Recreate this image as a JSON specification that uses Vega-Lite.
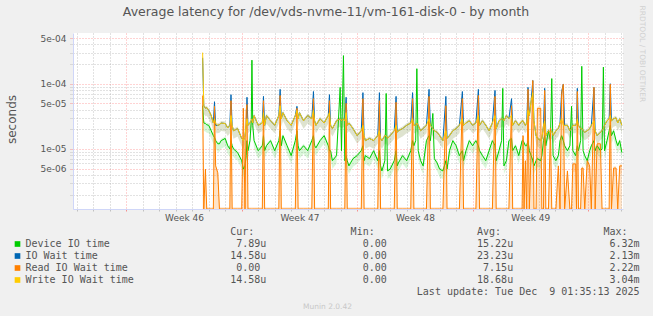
{
  "$schema": "https://vega.github.io/schema/vega-lite/v6.json",
  "width": 550,
  "height": 176,
  "autosize": {"type": "none"},
  "padding": {"left": 73, "top": 33, "right": 30, "bottom": 107},
  "background": "#f0f0f0",
  "config": {"view": {"fill": "#ffffff", "stroke": null}, "font": "DejaVu Sans"},
  "title": {"text": "Average latency for /dev/vds-nvme-11/vm-161-disk-0 - by month", "anchor": "middle", "frame": "group", "dx": -22, "dy": 27, "offset": 14, "font": "DejaVu Sans", "fontSize": 12.5, "fontWeight": "normal", "color": "#555555"},
  "data": {"values": [
    {"day":4.63,"dev":4.6e-5,"io":2.5e-4,"rd":6.6e-5,"wr":3.0e-4},
    {"day":4.70,"dev":2.5e-5,"io":4.6e-5,"rd":0,"wr":4.6e-5},
    {"day":4.80,"dev":2.45e-5,"io":4.2e-5,"rd":4.9e-6,"wr":4.2e-5},
    {"day":4.88,"dev":2.35e-5,"io":4.3e-5,"rd":0,"wr":4.3e-5},
    {"day":5.0,"dev":2.3e-5,"io":3.9e-5,"rd":0,"wr":3.9e-5},
    {"day":5.15,"dev":1.9e-5,"io":3.25e-5,"rd":0,"wr":3.25e-5},
    {"day":5.28,"dev":1.6e-5,"io":2.5e-5,"rd":0,"wr":2.5e-5},
    {"day":5.35,"dev":1.5e-5,"io":5.3e-5,"rd":4.5e-5,"wr":2.9e-5},
    {"day":5.42,"dev":1.34e-5,"io":2.3e-5,"rd":5.5e-6,"wr":2.45e-5},
    {"day":5.55,"dev":1.2e-5,"io":2.3e-5,"rd":4.3e-6,"wr":2.3e-5},
    {"day":5.65,"dev":1.2e-5,"io":2.35e-5,"rd":0,"wr":2.35e-5},
    {"day":5.75,"dev":1.34e-5,"io":2.5e-5,"rd":0,"wr":2.5e-5},
    {"day":6.0,"dev":1.45e-5,"io":2.45e-5,"rd":0,"wr":2.45e-5},
    {"day":6.15,"dev":1.12e-5,"io":2.1e-5,"rd":0,"wr":2.1e-5},
    {"day":6.28,"dev":1.0e-5,"io":2.3e-5,"rd":0,"wr":2.3e-5},
    {"day":6.35,"dev":1.34e-5,"io":6.8e-5,"rd":5.5e-5,"wr":3.25e-5},
    {"day":6.42,"dev":1.12e-5,"io":2.3e-5,"rd":0,"wr":2.3e-5},
    {"day":6.5,"dev":1.0e-5,"io":1.9e-5,"rd":0,"wr":1.9e-5},
    {"day":6.75,"dev":8.8e-6,"io":2.05e-5,"rd":0,"wr":2.05e-5},
    {"day":7.0,"dev":6.6e-6,"io":1.45e-5,"rd":0,"wr":1.45e-5},
    {"day":7.1,"dev":4.9e-6,"io":1.34e-5,"rd":4.2e-5,"wr":1.34e-5},
    {"day":7.2,"dev":5.5e-6,"io":1.6e-5,"rd":0,"wr":1.6e-5},
    {"day":7.27,"dev":7.9e-6,"io":2.3e-5,"rd":3.9e-5,"wr":2.3e-5},
    {"day":7.32,"dev":1.34e-5,"io":6.2e-5,"rd":4.8e-5,"wr":2.9e-5},
    {"day":7.38,"dev":9.4e-6,"io":2.3e-5,"rd":0,"wr":2.3e-5},
    {"day":7.5,"dev":1.34e-5,"io":2.5e-5,"rd":0,"wr":2.5e-5},
    {"day":7.58,"dev":2.7e-5,"io":2.7e-5,"rd":0,"wr":2.7e-5},
    {"day":7.62,"dev":2.3e-4,"io":2.9e-5,"rd":0,"wr":2.9e-5},
    {"day":7.67,"dev":2.3e-5,"io":2.5e-5,"rd":0,"wr":2.5e-5},
    {"day":7.75,"dev":1.34e-5,"io":3.25e-5,"rd":0,"wr":3.25e-5},
    {"day":8.0,"dev":9.4e-6,"io":2.3e-5,"rd":0,"wr":2.3e-5},
    {"day":8.25,"dev":1.12e-5,"io":2.5e-5,"rd":0,"wr":2.5e-5},
    {"day":8.32,"dev":1.6e-5,"io":6.4e-5,"rd":5.5e-5,"wr":3.6e-5},
    {"day":8.39,"dev":9.4e-6,"io":2.3e-5,"rd":0,"wr":2.3e-5},
    {"day":8.5,"dev":1.12e-5,"io":3.25e-5,"rd":0,"wr":3.25e-5},
    {"day":8.75,"dev":1.34e-5,"io":2.7e-5,"rd":0,"wr":2.7e-5},
    {"day":9.0,"dev":9.4e-6,"io":2.3e-5,"rd":0,"wr":2.3e-5},
    {"day":9.25,"dev":1.34e-5,"io":3.25e-5,"rd":0,"wr":3.25e-5},
    {"day":9.33,"dev":1.9e-5,"io":8.2e-5,"rd":6.6e-5,"wr":4.6e-5},
    {"day":9.4,"dev":1.12e-5,"io":2.9e-5,"rd":0,"wr":2.9e-5},
    {"day":9.5,"dev":1.6e-5,"io":3.6e-5,"rd":0,"wr":3.6e-5},
    {"day":9.75,"dev":1.12e-5,"io":2.7e-5,"rd":0,"wr":2.7e-5},
    {"day":10.0,"dev":7.9e-6,"io":2.3e-5,"rd":0,"wr":2.3e-5},
    {"day":10.25,"dev":1.34e-5,"io":3.25e-5,"rd":0,"wr":3.25e-5},
    {"day":10.35,"dev":1.9e-5,"io":4.5e-5,"rd":4.2e-5,"wr":3.9e-5},
    {"day":10.42,"dev":1.12e-5,"io":2.9e-5,"rd":0,"wr":2.9e-5},
    {"day":10.5,"dev":9.4e-6,"io":3.6e-5,"rd":0,"wr":3.6e-5},
    {"day":10.75,"dev":1.12e-5,"io":2.7e-5,"rd":0,"wr":2.7e-5},
    {"day":11.0,"dev":9.4e-6,"io":3.25e-5,"rd":0,"wr":3.25e-5},
    {"day":11.25,"dev":1.34e-5,"io":2.9e-5,"rd":0,"wr":2.9e-5},
    {"day":11.35,"dev":1.6e-5,"io":7.6e-5,"rd":5.9e-5,"wr":3.9e-5},
    {"day":11.42,"dev":1.12e-5,"io":2.7e-5,"rd":0,"wr":2.7e-5},
    {"day":11.5,"dev":1.04e-5,"io":2.3e-5,"rd":0,"wr":2.3e-5},
    {"day":11.75,"dev":1.34e-5,"io":2.9e-5,"rd":0,"wr":2.9e-5},
    {"day":12.0,"dev":1.6e-5,"io":2.5e-5,"rd":0,"wr":2.5e-5},
    {"day":12.25,"dev":1.12e-5,"io":3.25e-5,"rd":0,"wr":3.25e-5},
    {"day":12.32,"dev":9.4e-6,"io":6.8e-5,"rd":5.5e-5,"wr":3.6e-5},
    {"day":12.39,"dev":9.4e-6,"io":2.3e-5,"rd":0,"wr":2.3e-5},
    {"day":12.5,"dev":6.6e-6,"io":2.05e-5,"rd":0,"wr":2.05e-5},
    {"day":12.75,"dev":7.9e-6,"io":2.7e-5,"rd":0,"wr":2.7e-5},
    {"day":12.97,"dev":8.8e-5,"io":2.9e-5,"rd":0,"wr":2.9e-5},
    {"day":13.05,"dev":9.4e-6,"io":2.7e-5,"rd":0,"wr":2.7e-5},
    {"day":13.17,"dev":2.7e-4,"io":2.9e-5,"rd":0,"wr":2.9e-5},
    {"day":13.25,"dev":6.6e-6,"io":2.7e-5,"rd":0,"wr":2.7e-5},
    {"day":13.33,"dev":7.9e-6,"io":6.2e-5,"rd":5.0e-5,"wr":3.6e-5},
    {"day":13.4,"dev":6.6e-6,"io":2.3e-5,"rd":0,"wr":2.3e-5},
    {"day":13.5,"dev":5.5e-6,"io":2.5e-5,"rd":0,"wr":2.5e-5},
    {"day":13.75,"dev":7.1e-6,"io":2.05e-5,"rd":0,"wr":2.05e-5},
    {"day":14.0,"dev":7.9e-6,"io":1.6e-5,"rd":0,"wr":1.6e-5},
    {"day":14.25,"dev":9.4e-6,"io":1.9e-5,"rd":0,"wr":1.9e-5},
    {"day":14.35,"dev":1.12e-5,"io":7.3e-5,"rd":5.9e-5,"wr":2.3e-5},
    {"day":14.42,"dev":6.6e-6,"io":1.6e-5,"rd":0,"wr":1.6e-5},
    {"day":14.5,"dev":7.9e-6,"io":1.34e-5,"rd":0,"wr":1.34e-5},
    {"day":14.75,"dev":7.1e-6,"io":1.45e-5,"rd":0,"wr":1.45e-5},
    {"day":15.0,"dev":9.4e-6,"io":1.34e-5,"rd":0,"wr":1.34e-5},
    {"day":15.25,"dev":6.6e-6,"io":1.6e-5,"rd":0,"wr":1.6e-5},
    {"day":15.35,"dev":9.4e-6,"io":7.3e-5,"rd":5.5e-5,"wr":1.9e-5},
    {"day":15.42,"dev":5.5e-6,"io":1.45e-5,"rd":0,"wr":1.45e-5},
    {"day":15.5,"dev":4.6e-6,"io":1.34e-5,"rd":0,"wr":1.34e-5},
    {"day":15.68,"dev":6.6e-6,"io":1.6e-5,"rd":0,"wr":1.6e-5},
    {"day":15.76,"dev":7.1e-5,"io":1.6e-5,"rd":0,"wr":1.6e-5},
    {"day":15.84,"dev":4.6e-6,"io":1.45e-5,"rd":0,"wr":1.45e-5},
    {"day":16.0,"dev":4.9e-6,"io":1.6e-5,"rd":0,"wr":1.6e-5},
    {"day":16.25,"dev":6.6e-6,"io":1.9e-5,"rd":0,"wr":1.9e-5},
    {"day":16.36,"dev":9.4e-6,"io":6.4e-5,"rd":5.2e-5,"wr":2.3e-5},
    {"day":16.43,"dev":5.5e-6,"io":1.8e-5,"rd":0,"wr":1.8e-5},
    {"day":16.5,"dev":6.1e-6,"io":1.9e-5,"rd":0,"wr":1.9e-5},
    {"day":16.75,"dev":7.9e-6,"io":2.05e-5,"rd":0,"wr":2.05e-5},
    {"day":17.0,"dev":6.6e-6,"io":2.3e-5,"rd":0,"wr":2.3e-5},
    {"day":17.25,"dev":9.4e-6,"io":2.5e-5,"rd":0,"wr":2.5e-5},
    {"day":17.36,"dev":1.34e-5,"io":7.3e-5,"rd":5.9e-5,"wr":2.9e-5},
    {"day":17.44,"dev":1.12e-5,"io":2.3e-5,"rd":0,"wr":2.3e-5},
    {"day":17.55,"dev":1.34e-5,"io":2.3e-5,"rd":0,"wr":2.3e-5},
    {"day":17.62,"dev":1.7e-4,"io":2.5e-5,"rd":0,"wr":2.5e-5},
    {"day":17.7,"dev":9.4e-6,"io":2.3e-5,"rd":0,"wr":2.3e-5},
    {"day":17.85,"dev":6.6e-6,"io":1.9e-5,"rd":0,"wr":1.9e-5},
    {"day":18.0,"dev":5.5e-6,"io":2.05e-5,"rd":0,"wr":2.05e-5},
    {"day":18.2,"dev":1.34e-5,"io":2.3e-5,"rd":0,"wr":2.3e-5},
    {"day":18.36,"dev":1.6e-5,"io":8.2e-5,"rd":6.4e-5,"wr":2.9e-5},
    {"day":18.44,"dev":1.34e-5,"io":2.3e-5,"rd":0,"wr":2.3e-5},
    {"day":18.59,"dev":3.5e-5,"io":2.05e-5,"rd":0,"wr":2.05e-5},
    {"day":18.68,"dev":7.1e-6,"io":1.9e-5,"rd":0,"wr":1.9e-5},
    {"day":18.85,"dev":6.1e-6,"io":1.8e-5,"rd":0,"wr":1.8e-5},
    {"day":19.0,"dev":4.9e-6,"io":1.6e-5,"rd":0,"wr":1.6e-5},
    {"day":19.2,"dev":4.6e-6,"io":1.34e-5,"rd":0,"wr":1.34e-5},
    {"day":19.38,"dev":6.6e-6,"io":6.4e-5,"rd":4.6e-5,"wr":1.9e-5},
    {"day":19.45,"dev":4.9e-6,"io":1.45e-5,"rd":0,"wr":1.45e-5},
    {"day":19.6,"dev":9.4e-6,"io":1.6e-5,"rd":0,"wr":1.6e-5},
    {"day":19.8,"dev":1.34e-5,"io":1.9e-5,"rd":0,"wr":1.9e-5},
    {"day":20.0,"dev":1.12e-5,"io":2.05e-5,"rd":0,"wr":2.05e-5},
    {"day":20.2,"dev":7.9e-6,"io":2.3e-5,"rd":0,"wr":2.3e-5},
    {"day":20.38,"dev":9.4e-6,"io":7.6e-5,"rd":5.9e-5,"wr":2.9e-5},
    {"day":20.45,"dev":6.6e-6,"io":2.3e-5,"rd":0,"wr":2.3e-5},
    {"day":20.6,"dev":9.4e-6,"io":2.5e-5,"rd":0,"wr":2.5e-5},
    {"day":20.8,"dev":1.34e-5,"io":2.7e-5,"rd":0,"wr":2.7e-5},
    {"day":21.0,"dev":1.12e-5,"io":2.3e-5,"rd":0,"wr":2.3e-5},
    {"day":21.2,"dev":1.34e-5,"io":2.5e-5,"rd":0,"wr":2.5e-5},
    {"day":21.35,"dev":1.12e-5,"io":8.2e-5,"rd":6.6e-5,"wr":3.25e-5},
    {"day":21.42,"dev":9.4e-6,"io":2.3e-5,"rd":0,"wr":2.3e-5},
    {"day":21.6,"dev":7.9e-6,"io":2.7e-5,"rd":0,"wr":2.7e-5},
    {"day":21.8,"dev":6.6e-6,"io":2.3e-5,"rd":0,"wr":2.3e-5},
    {"day":22.0,"dev":9.4e-6,"io":1.9e-5,"rd":0,"wr":1.9e-5},
    {"day":22.2,"dev":1.34e-5,"io":2.5e-5,"rd":0,"wr":2.5e-5},
    {"day":22.36,"dev":1.12e-5,"io":7.9e-5,"rd":6.4e-5,"wr":3.25e-5},
    {"day":22.43,"dev":6.6e-6,"io":2.05e-5,"rd":0,"wr":2.05e-5},
    {"day":22.6,"dev":9.4e-6,"io":2.7e-5,"rd":0,"wr":2.7e-5},
    {"day":22.76,"dev":1.34e-5,"io":2.9e-5,"rd":0,"wr":2.9e-5},
    {"day":22.83,"dev":8.5e-5,"io":2.9e-5,"rd":0,"wr":2.9e-5},
    {"day":22.9,"dev":5.5e-6,"io":2.7e-5,"rd":0,"wr":2.7e-5},
    {"day":23.05,"dev":6.6e-6,"io":3.25e-5,"rd":0,"wr":3.25e-5},
    {"day":23.2,"dev":1.34e-5,"io":2.9e-5,"rd":0,"wr":2.9e-5},
    {"day":23.36,"dev":1.45e-5,"io":5.9e-5,"rd":4.6e-5,"wr":3.25e-5},
    {"day":23.43,"dev":9.4e-6,"io":2.3e-5,"rd":0,"wr":2.3e-5},
    {"day":23.6,"dev":1.12e-5,"io":2.7e-5,"rd":0,"wr":2.7e-5},
    {"day":23.8,"dev":7.9e-6,"io":2.3e-5,"rd":0,"wr":2.3e-5},
    {"day":24.0,"dev":1.34e-5,"io":2.7e-5,"rd":0,"wr":2.7e-5},
    {"day":24.06,"dev":1.34e-5,"io":2.7e-5,"rd":1.6e-5,"wr":2.7e-5},
    {"day":24.12,"dev":1.25e-5,"io":2.5e-5,"rd":0,"wr":2.5e-5},
    {"day":24.2,"dev":1.12e-5,"io":2.3e-5,"rd":6.6e-6,"wr":2.3e-5},
    {"day":24.28,"dev":1.12e-5,"io":2.5e-5,"rd":0,"wr":2.5e-5},
    {"day":24.36,"dev":1.34e-5,"io":8.8e-5,"rd":8.2e-5,"wr":3.9e-5},
    {"day":24.44,"dev":9.4e-6,"io":3.25e-5,"rd":0,"wr":3.25e-5},
    {"day":24.55,"dev":7.9e-6,"io":5.5e-5,"rd":9.4e-6,"wr":5.5e-5},
    {"day":24.65,"dev":6.6e-6,"io":1.12e-4,"rd":1.12e-4,"wr":7.3e-5},
    {"day":24.72,"dev":5.5e-6,"io":2.7e-5,"rd":0,"wr":2.7e-5},
    {"day":24.85,"dev":6.6e-6,"io":1.6e-5,"rd":0,"wr":1.6e-5},
    {"day":24.93,"dev":7.1e-6,"io":1.45e-5,"rd":4.2e-5,"wr":1.45e-5},
    {"day":25.13,"dev":6.6e-6,"io":1.34e-5,"rd":4.2e-5,"wr":1.34e-5},
    {"day":25.2,"dev":7.9e-6,"io":1.45e-5,"rd":0,"wr":1.45e-5},
    {"day":25.3,"dev":1.34e-5,"io":2.3e-5,"rd":0,"wr":2.3e-5},
    {"day":25.37,"dev":1.6e-5,"io":8.5e-5,"rd":7.9e-5,"wr":2.7e-5},
    {"day":25.44,"dev":1.12e-5,"io":1.6e-5,"rd":0,"wr":1.6e-5},
    {"day":25.6,"dev":1.9e-5,"io":1.9e-5,"rd":0,"wr":1.9e-5},
    {"day":25.72,"dev":1.34e-5,"io":1.8e-5,"rd":2.1e-5,"wr":1.8e-5},
    {"day":25.8,"dev":1.2e-4,"io":1.9e-5,"rd":0,"wr":1.9e-5},
    {"day":25.88,"dev":7.9e-6,"io":1.6e-5,"rd":0,"wr":1.6e-5},
    {"day":26.05,"dev":6.6e-6,"io":1.9e-5,"rd":0,"wr":1.9e-5},
    {"day":26.2,"dev":7.9e-6,"io":2.05e-5,"rd":5.5e-6,"wr":2.05e-5},
    {"day":26.3,"dev":1.34e-5,"io":2.5e-5,"rd":0,"wr":2.5e-5},
    {"day":26.4,"dev":1.6e-5,"io":7.6e-5,"rd":7.1e-5,"wr":2.9e-5},
    {"day":26.5,"dev":1.34e-5,"io":9.8e-5,"rd":9.8e-5,"wr":2.3e-5},
    {"day":26.58,"dev":1.12e-5,"io":2.3e-5,"rd":0,"wr":2.3e-5},
    {"day":26.75,"dev":9.4e-6,"io":2.3e-5,"rd":4.6e-6,"wr":2.3e-5},
    {"day":26.9,"dev":1.12e-5,"io":1.9e-5,"rd":0,"wr":1.9e-5},
    {"day":27.0,"dev":4.5e-5,"io":2.05e-5,"rd":0,"wr":2.05e-5},
    {"day":27.08,"dev":9.4e-6,"io":2.3e-5,"rd":5.9e-6,"wr":2.3e-5},
    {"day":27.25,"dev":7.9e-6,"io":2.3e-5,"rd":5.9e-6,"wr":2.3e-5},
    {"day":27.3,"dev":9.4e-6,"io":2.5e-5,"rd":0,"wr":2.5e-5},
    {"day":27.35,"dev":1.12e-5,"io":8.5e-5,"rd":7.6e-5,"wr":2.9e-5},
    {"day":27.42,"dev":9.4e-6,"io":2.3e-5,"rd":0,"wr":2.3e-5},
    {"day":27.55,"dev":1.34e-5,"io":2.05e-5,"rd":0,"wr":2.05e-5},
    {"day":27.62,"dev":1.85e-4,"io":2.05e-5,"rd":5.1e-6,"wr":2.05e-5},
    {"day":27.7,"dev":9.4e-6,"io":1.9e-5,"rd":5.1e-6,"wr":1.9e-5},
    {"day":27.8,"dev":7.9e-6,"io":1.8e-5,"rd":0,"wr":1.8e-5},
    {"day":27.95,"dev":6.6e-6,"io":1.9e-5,"rd":6.6e-6,"wr":1.9e-5},
    {"day":28.1,"dev":9.4e-6,"io":2.05e-5,"rd":5.5e-6,"wr":2.05e-5},
    {"day":28.2,"dev":1.12e-5,"io":2.3e-5,"rd":0,"wr":2.3e-5},
    {"day":28.36,"dev":1.34e-5,"io":8.8e-5,"rd":8.8e-5,"wr":2.7e-5},
    {"day":28.43,"dev":9.4e-6,"io":1.9e-5,"rd":0,"wr":1.9e-5},
    {"day":28.55,"dev":1.12e-5,"io":1.6e-5,"rd":1.2e-5,"wr":1.6e-5},
    {"day":28.75,"dev":9.4e-6,"io":1.8e-5,"rd":1.2e-5,"wr":1.8e-5},
    {"day":28.85,"dev":1.0e-5,"io":1.9e-5,"rd":0,"wr":1.9e-5},
    {"day":28.93,"dev":1.8e-4,"io":2.05e-5,"rd":0,"wr":2.05e-5},
    {"day":29.0,"dev":9.4e-6,"io":2.3e-5,"rd":0,"wr":2.3e-5},
    {"day":29.15,"dev":1.34e-5,"io":2.7e-5,"rd":0,"wr":2.7e-5},
    {"day":29.28,"dev":1.9e-5,"io":2.9e-5,"rd":0,"wr":2.9e-5},
    {"day":29.35,"dev":2.3e-5,"io":1.0e-4,"rd":9.8e-5,"wr":3.25e-5},
    {"day":29.42,"dev":1.6e-5,"io":2.7e-5,"rd":0,"wr":2.7e-5},
    {"day":29.55,"dev":1.9e-5,"io":2.9e-5,"rd":5.1e-6,"wr":2.9e-5},
    {"day":29.7,"dev":1.34e-5,"io":3.0e-5,"rd":5.1e-6,"wr":3.0e-5},
    {"day":29.8,"dev":1.12e-5,"io":2.5e-5,"rd":0,"wr":2.5e-5},
    {"day":29.92,"dev":1.34e-5,"io":2.9e-5,"rd":5.5e-6,"wr":2.9e-5},
    {"day":30.05,"dev":8.8e-6,"io":2.3e-5,"rd":5.5e-6,"wr":2.3e-5}
  ]},
  "layer": [
    {
      "transform": [{"fold": ["dev", "io", "rd", "wr"], "as": ["s", "v"]}],
      "encoding": {
        "x": {
          "field": "day", "type": "quantitative",
          "scale": {"domain": [-3.23, 30.12], "nice": false, "zero": false},
          "axis": {
            "values": [-3,-2,-1,0,1,2,3,4,5,6,7,8,9,10,11,12,13,14,15,16,17,18,19,20,21,22,23,24,25,26,27,28,29,30,3.5,10.5,17.5,24.5],
            "labelExpr": "datum.value % 1 == 0 ? '' : 'Week ' + (46 + floor(datum.value / 7))",
            "labelOverlap": false, "labelBound": false, "labelFlush": false,
            "labelFont": "DejaVu Sans", "labelFontSize": 9, "labelColor": "#555555", "labelPadding": 2,
            "tickSize": 2,
            "tickColor": {"condition": {"test": "datum.value % 7 == 0", "value": "rgba(255,0,0,0.4)"}, "value": "rgba(160,160,160,0.6)"},
            "tickOpacity": {"condition": {"test": "datum.value % 1 != 0", "value": 0}, "value": 1},
            "grid": true,
            "gridColor": {"condition": {"test": "datum.value % 7 == 0", "value": "rgba(255,0,0,0.35)"}, "value": "rgba(150,150,150,0.55)"},
            "gridOpacity": {"condition": {"test": "datum.value % 1 != 0", "value": 0}, "value": 1},
            "gridDash": [1, 2],
            "domainColor": "#cfd6f8",
            "title": "Munin 2.0.42", "titleFont": "DejaVu Sans", "titleFontSize": 7.5, "titleFontWeight": "normal", "titleColor": "#c8c8c8",
            "titleX": 254, "titleY": 97, "titleAlign": "center", "titleBaseline": "middle"
          }
        },
        "y": {
          "field": "v", "type": "quantitative", "title": "seconds",
          "scale": {"type": "log", "domain": [1.2e-6, 6e-4], "nice": false, "clamp": true},
          "axis": {
            "values": [2e-6,3e-6,4e-6,5e-6,6e-6,7e-6,8e-6,9e-6,1e-5,2e-5,3e-5,4e-5,5e-5,6e-5,7e-5,8e-5,9e-5,1e-4,2e-4,3e-4,4e-4,5e-4],
            "labelExpr": "indexof([5e-6,1e-5,5e-5,1e-4,5e-4], datum.value) >= 0 ? replace(format(datum.value, '.0e'), 'e-', 'e-0') : ''",
            "labelOverlap": false, "labelBound": false, "labelFlush": false,
            "labelFont": "DejaVu Sans", "labelFontSize": 9, "labelColor": "#555555", "labelPadding": 3,
            "tickSize": 4, "tickDash": [1, 1],
            "tickColor": {"condition": {"test": "indexof([5e-6,1e-5,5e-5,1e-4,5e-4], datum.value) >= 0", "value": "rgba(255,0,0,0.4)"}, "value": "rgba(160,160,160,0.6)"},
            "grid": true,
            "gridColor": {"condition": {"test": "indexof([5e-6,1e-5,5e-5,1e-4,5e-4], datum.value) >= 0", "value": "rgba(255,0,0,0.35)"}, "value": "rgba(150,150,150,0.55)"},
            "gridDash": [1, 2],
            "domainColor": "#cfd6f8",
            "titleFont": "DejaVu Sans", "titleFontSize": 12, "titleFontWeight": "normal", "titleColor": "#555555",
            "titleX": -62, "titleY": 86, "titleAngle": 270, "titleAlign": "center", "titleBaseline": "middle"
          }
        }
      },
      "layer": [
        {
          "mark": {"type": "area", "yOffset": -2, "y2Offset": 8, "fillOpacity": 0.15, "clip": true, "invalid": "show"},
          "encoding": {
            "y2": {"field": "v"},
            "color": {
              "field": "s", "type": "nominal",
              "scale": {"domain": ["hdr", "dev", "io", "rd", "wr", "lu"], "range": ["rgba(0,0,0,0)", "#00cc00", "#0066b3", "#ff8000", "#ffcc00", "rgba(0,0,0,0)"]},
              "legend": {
                "orient": "none", "legendX": -60.5, "legendY": 194, "direction": "vertical", "title": null, "padding": 0,
                "symbolType": "square", "symbolSize": 32, "symbolStrokeWidth": 0, "symbolOpacity": 1,
                "labelFont": "DejaVu Sans Mono", "labelFontSize": 10, "labelColor": "#555555", "labelLimit": 1000, "labelOffset": 3,
                "rowPadding": 2,
                "labelExpr": "datum.value == 'hdr' ? '\u200b' + pad('Cur:',38,'\u00a0','left') + pad('Min:',20,'\u00a0','left') + pad('Avg:',21,'\u00a0','left') + pad('Max:',21,'\u00a0','left') : datum.value == 'dev' ? pad('Device IO time',33,'\u00a0') + pad('7.89',6,'\u00a0','left') + 'u' + pad('0.00',20,'\u00a0','left') + '\u00a0' + pad('15.22',19,'\u00a0','left') + 'u' + pad('6.32',20,'\u00a0','left') + 'm' : datum.value == 'io' ? pad('IO Wait time',33,'\u00a0') + pad('14.58',6,'\u00a0','left') + 'u' + pad('0.00',20,'\u00a0','left') + '\u00a0' + pad('23.23',19,'\u00a0','left') + 'u' + pad('2.13',20,'\u00a0','left') + 'm' : datum.value == 'rd' ? pad('Read IO Wait time',33,'\u00a0') + pad('0.00',6,'\u00a0','left') + '\u00a0' + pad('0.00',20,'\u00a0','left') + '\u00a0' + pad('7.15',19,'\u00a0','left') + 'u' + pad('2.22',20,'\u00a0','left') + 'm' : datum.value == 'wr' ? pad('Write IO Wait time',33,'\u00a0') + pad('14.58',6,'\u00a0','left') + 'u' + pad('0.00',20,'\u00a0','left') + '\u00a0' + pad('18.68',19,'\u00a0','left') + 'u' + pad('3.04',20,'\u00a0','left') + 'm' : '\u200b' + pad('Last update: Tue Dec\u00a0\u00a09 01:35:13 2025',102,'\u00a0','left')"
              }
            }
          }
        },
        {"transform": [{"filter": "datum.s == 'rd'"}], "mark": {"type": "area", "color": "#ff8000", "fillOpacity": 0.22, "clip": true, "invalid": "show"}},
        {"transform": [{"filter": "datum.s == 'dev'"}], "mark": {"type": "line", "color": "#00cc00", "strokeWidth": 1, "clip": true, "invalid": "show"}},
        {"transform": [{"filter": "datum.s == 'io'"}], "mark": {"type": "line", "color": "#0066b3", "strokeWidth": 1, "clip": true, "invalid": "show"}},
        {"transform": [{"filter": "datum.s == 'rd'"}], "mark": {"type": "line", "color": "#ff8000", "strokeWidth": 1, "clip": true, "invalid": "show"}},
        {"transform": [{"filter": "datum.s == 'wr'"}], "mark": {"type": "line", "color": "#ffcc00", "strokeWidth": 1, "clip": true, "invalid": "show"}},
        {"data": {"values": [{}]}, "mark": {"type": "point", "shape": "triangle-up", "filled": true, "color": "#cfd6f8", "opacity": 1, "size": 28, "yOffset": -4}, "encoding": {"x": {"datum": -3.23}, "y": {"datum": 6e-4}}},
        {"data": {"values": [{}]}, "mark": {"type": "point", "shape": "triangle-right", "filled": true, "color": "#cfd6f8", "opacity": 1, "size": 28, "xOffset": 4}, "encoding": {"x": {"datum": 30.12}, "y": {"datum": 1.2e-6}}}
      ]
    },
    {
      "data": {"values": [{}]},
      "mark": {"type": "rule", "opacity": 0},
      "encoding": {
        "y": {
          "datum": 1e-5, "type": "quantitative",
          "scale": {"type": "log", "domain": [1.2e-6, 6e-4], "nice": false, "clamp": true},
          "axis": {"orient": "right", "labels": false, "ticks": false, "domain": false, "grid": false,
            "title": "RRDTOOL / TOBI OETIKER", "titleFont": "DejaVu Sans", "titleFontSize": 7.5, "titleFontWeight": "normal", "titleColor": "#d0d0d0",
            "titleAngle": 90, "titleX": 18, "titleY": -28, "titleAlign": "left", "titleBaseline": "middle"}
        }
      }
    }
  ],
  "resolve": {"axis": {"y": "independent"}}
}
